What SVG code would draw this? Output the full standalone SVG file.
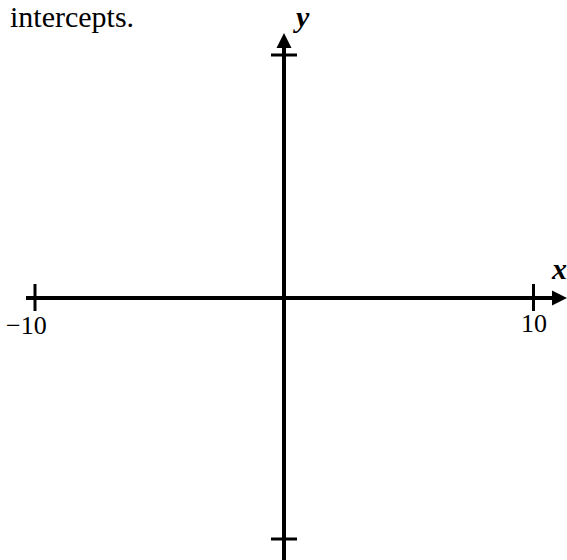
<svg xmlns="http://www.w3.org/2000/svg" width="567" height="560" viewBox="0 0 567 560">
<style>
.t{font-family:"Liberation Serif","Times New Roman",serif;fill:#000}
.ax{stroke:#000;stroke-width:4;fill:none}
.tk{stroke:#000;stroke-width:3;fill:none}
.lbl{font-weight:bold;font-style:italic;font-size:30px}
</style>
<rect width="567" height="560" fill="#fff"/>
<text class="t" x="10" y="27" font-size="30">intercepts.</text>
<g id="connectors">
<line class="ax" x1="284" y1="44" x2="284" y2="560"/>
<polygon points="284,33 276.5,48 291.5,48" fill="#000"/>
<line class="ax" x1="26" y1="298" x2="555" y2="298"/>
<polygon points="567,298 552,290.5 552,305.5" fill="#000"/>
</g>
<g id="ticks">
<line class="tk" x1="271" y1="55" x2="297" y2="55"/>
<line class="tk" x1="271" y1="539" x2="297" y2="539"/>
<line class="tk" x1="35" y1="284" x2="35" y2="311"/>
<line class="tk" x1="533.5" y1="284" x2="533.5" y2="311"/>
</g>
<g id="labels">
<text class="t lbl" x="296" y="27">y</text>
<text class="t lbl" x="552" y="279">x</text>
<text class="t" x="6" y="334" font-size="26">−10</text>
<text class="t" x="521" y="332" font-size="26">10</text>
</g>
</svg>
